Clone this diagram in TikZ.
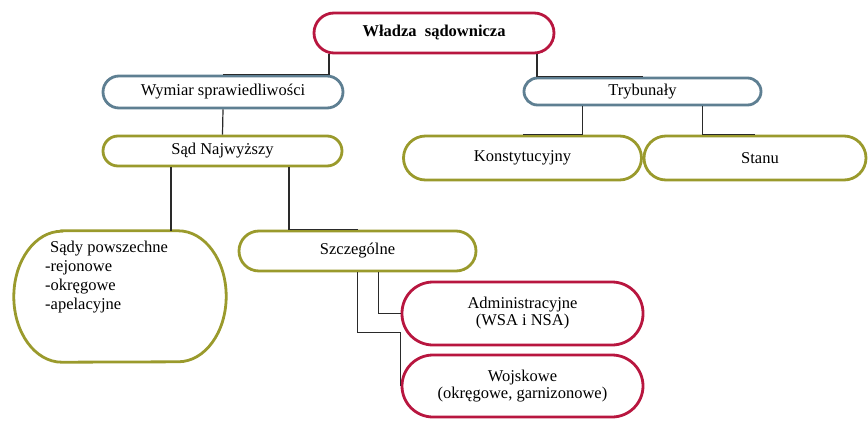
\documentclass[tikz,border=0pt]{standalone}
\usepackage{fontspec}
\setmainfont{Liberation Serif}
\definecolor{cred}{HTML}{B8163F}
\definecolor{cblue}{HTML}{5E7F92}
\definecolor{colive}{HTML}{9A9A2C}
\definecolor{cline}{HTML}{2A2A2A}
\begin{document}
\begin{tikzpicture}[x=1pt,y=-1pt,
  box/.style={draw, line width=2.8pt, fill=white, inner sep=0pt, align=center,
    font=\fontsize{16.5}{17}\selectfont},
  redbox/.style={box, draw=cred},
  bluebox/.style={box, draw=cblue},
  olivebox/.style={box, draw=colive},
  conn/.style={draw=cline, line width=1.2pt}]
\useasboundingbox (0,0) rectangle (868,421);
% nodes
\node[redbox, minimum width=240pt, minimum height=40pt, rounded corners=20pt] (wladza) at (434,33) {\bfseries Władza\ \ sądownicza};
\node[bluebox, minimum width=240pt, minimum height=32pt, rounded corners=16pt] (wymiar) at (223,92) {Wymiar sprawiedliwości};
\node[bluebox, minimum width=237pt, minimum height=27pt, rounded corners=13.5pt] (tryb) at (642.5,91.5) {Trybunały};
\node[olivebox, minimum width=239pt, minimum height=30pt, rounded corners=15pt] (sn) at (222.5,151) {Sąd Najwyższy};
\node[olivebox, minimum width=238pt, minimum height=44pt, rounded corners=22pt] (konst) at (522.5,158) {Konstytucyjny};
\node[olivebox, minimum width=222pt, minimum height=44pt, rounded corners=22pt] (stanu) at (755,158) {\hspace{10pt}Stanu};
\node[minimum width=212pt, minimum height=131pt, inner sep=0pt] (sp) at (120,296.5) {};
\draw[draw=colive, line width=2.8pt] ([xshift=48pt]sp.north west) -- ([xshift=-48pt]sp.north east)
  arc[start angle=90, end angle=-90, x radius=48pt, y radius=65.5pt]
  -- ([xshift=48pt]sp.south west)
  arc[start angle=270, end angle=90, x radius=48pt, y radius=65.5pt] -- cycle;
\node[anchor=north west, align=left, inner sep=0pt, font=\fontsize{16.5}{19}\selectfont] (sptext) at (45,241) {\hspace{5pt}Sądy powszechne\\-rejonowe\\-okręgowe\\-apelacyjne};
\node[olivebox, minimum width=237pt, minimum height=40pt, rounded corners=20pt] (szcz) at (357.5,251) {Szczególne};
\node[redbox, minimum width=241pt, minimum height=63pt, rounded corners=31pt] (adm) at (522.5,313.5) {Administracyjne\\(WSA i NSA)};
\node[redbox, minimum width=241pt, minimum height=62pt, rounded corners=31pt] (woj) at (522.5,386) {Wojskowe\\(okręgowe, garnizonowe)};
% connectors
\draw[conn] ([xshift=-105pt]wladza.south) |- (wymiar.north);
\draw[conn] ([xshift=103pt]wladza.south) |- (tryb.north);
\draw[conn] (wymiar.south) -- (sn.north);
\draw[conn] ([xshift=-60pt]tryb.south) |- (konst.north);
\draw[conn] ([xshift=60pt]tryb.south) |- (stanu.north);
\draw[conn] ([xshift=-51.5pt]sn.south) -- ([xshift=-51.5pt]sn.south |- sp.north);
\draw[conn] ([xshift=66.5pt]sn.south) |- (szcz.north);
\draw[conn] ([xshift=21pt]szcz.south) |- (adm.west);
\draw[conn] (szcz.south) -- ++(0,60) -| (woj.west);
\end{tikzpicture}
\end{document}
